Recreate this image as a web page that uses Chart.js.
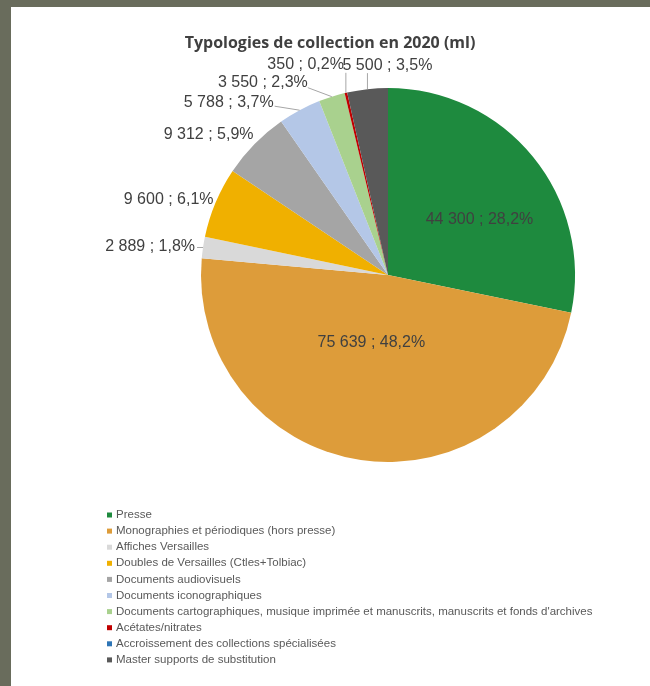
<!DOCTYPE html>
<html>
<head>
<meta charset="utf-8">
<script src="https://cdn.jsdelivr.net/npm/chart.js@4"></script>
<style>
  html, body { margin: 0; padding: 0; }
  body { width: 650px; height: 686px; background: #696c5c; position: relative; overflow: hidden; }
  .sheet { position: absolute; left: 11px; top: 7px; right: 0; bottom: 0; background: #ffffff; }
  canvas { position: absolute; left: 0; top: 0; }
</style>
</head>
<body>
<div class="sheet"></div>
<canvas id="typologies" width="650" height="686"></canvas>
<script>
const categories = [
  "Presse",
  "Monographies et périodiques (hors presse)",
  "Affiches Versailles",
  "Doubles de Versailles (Ctles+Tolbiac)",
  "Documents audiovisuels",
  "Documents iconographiques",
  "Documents cartographiques, musique imprimée et manuscrits, manuscrits et fonds d'archives",
  "Acétates/nitrates",
  "Accroissement des collections spécialisées",
  "Master supports de substitution"
];
const linearMeters = [44300, 75639, 2889, 9600, 9312, 5788, 3550, 350, 0, 5500];
const sliceColors = [
  "#1e8a3e", "#dd9c3a", "#d9d9d9", "#f0b000", "#a5a5a5",
  "#b4c7e7", "#a9d18e", "#c00000", "#2e75b6", "#595959"
];

// where each value label sits, relative to its slice (inside: arc centre, outside: outer edge)
const labelPlacement = [
  { mode: "in", dx: 19, dy: 4 },
  { mode: "in", dx: -3, dy: -25 },
  { mode: "out", dx: -8, dy: -1, align: "right", lead: [-6, 0] },
  { mode: "out", dx: -2, dy: -3, align: "right" },
  { mode: "out", dx: -1, dy: -9, align: "right" },
  { mode: "out", dx: -26, dy: -8, align: "right", lead: [-25, -4] },
  { mode: "out", dx: -24, dy: -14, align: "right", lead: [-24, -9] },
  { mode: "out", dx: -2, dy: -28, align: "right", lead: [0, -20] },
  null,
  { mode: "out", dx: 20, dy: -24, align: "center", lead: [0, -16] }
];

const total = linearMeters.reduce((a, b) => a + b, 0);

function formatLabel(v) {
  const num = String(v).replace(/\B(?=(\d{3})+(?!\d))/g, " ");
  const pct = (v / total * 100).toFixed(1).replace(".", ",");
  return num + " ; " + pct + "%";
}

const decorPlugin = {
  id: "decor",
  afterDraw(chart) {
    const ctx = chart.ctx;
    const arcs = chart.getDatasetMeta(0).data;
    ctx.save();

    // title
    ctx.fillStyle = "#404040";
    ctx.font = "bold 16px 'Open Sans'";
    ctx.textAlign = "center";
    ctx.textBaseline = "middle";
    ctx.fillText("Typologies de collection en 2020 (ml)", 330, 43);

    // value labels
    ctx.font = "16px 'Liberation Sans'";
    arcs.forEach((arc, i) => {
      const place = labelPlacement[i];
      if (!place) return;
      const text = formatLabel(linearMeters[i]);
      let ax, ay;
      if (place.mode === "in") {
        const p = arc.getCenterPoint();
        ax = p.x; ay = p.y;
      } else {
        const mid = (arc.startAngle + arc.endAngle) / 2;
        ax = arc.x + Math.cos(mid) * arc.outerRadius;
        ay = arc.y + Math.sin(mid) * arc.outerRadius;
        if (place.lead) {
          ctx.strokeStyle = "#a6a6a6";
          ctx.lineWidth = 1;
          ctx.beginPath();
          ctx.moveTo(ax + place.lead[0], ay + place.lead[1]);
          ctx.lineTo(ax, ay);
          ctx.stroke();
        }
      }
      ctx.fillStyle = "#404040";
      ctx.textAlign = place.align || "center";
      ctx.fillText(text, ax + place.dx, ay + place.dy);
    });

    // legend
    ctx.font = "11.5px 'Liberation Sans'";
    ctx.textAlign = "left";
    chart.data.labels.forEach((label, i) => {
      const y = 515 + i * 16.1;
      ctx.fillStyle = sliceColors[i];
      ctx.fillRect(107, y - 2.5, 5, 5);
      ctx.fillStyle = "#595959";
      ctx.fillText(label, 116, y);
    });
    ctx.restore();
  }
};

new Chart(document.getElementById("typologies"), {
  type: "pie",
  data: {
    labels: categories,
    datasets: [{
      data: linearMeters,
      backgroundColor: sliceColors,
      borderWidth: 0,
      hoverOffset: 0,
      offset: 0
    }]
  },
  options: {
    responsive: false,
    animation: false,
    layout: {
      padding: { left: 201, right: 75, top: 88, bottom: 224 }
    },
    plugins: {
      legend: { display: false },
      title: { display: false },
      tooltip: { enabled: false }
    }
  },
  plugins: [decorPlugin]
});
</script>
</body>
</html>
